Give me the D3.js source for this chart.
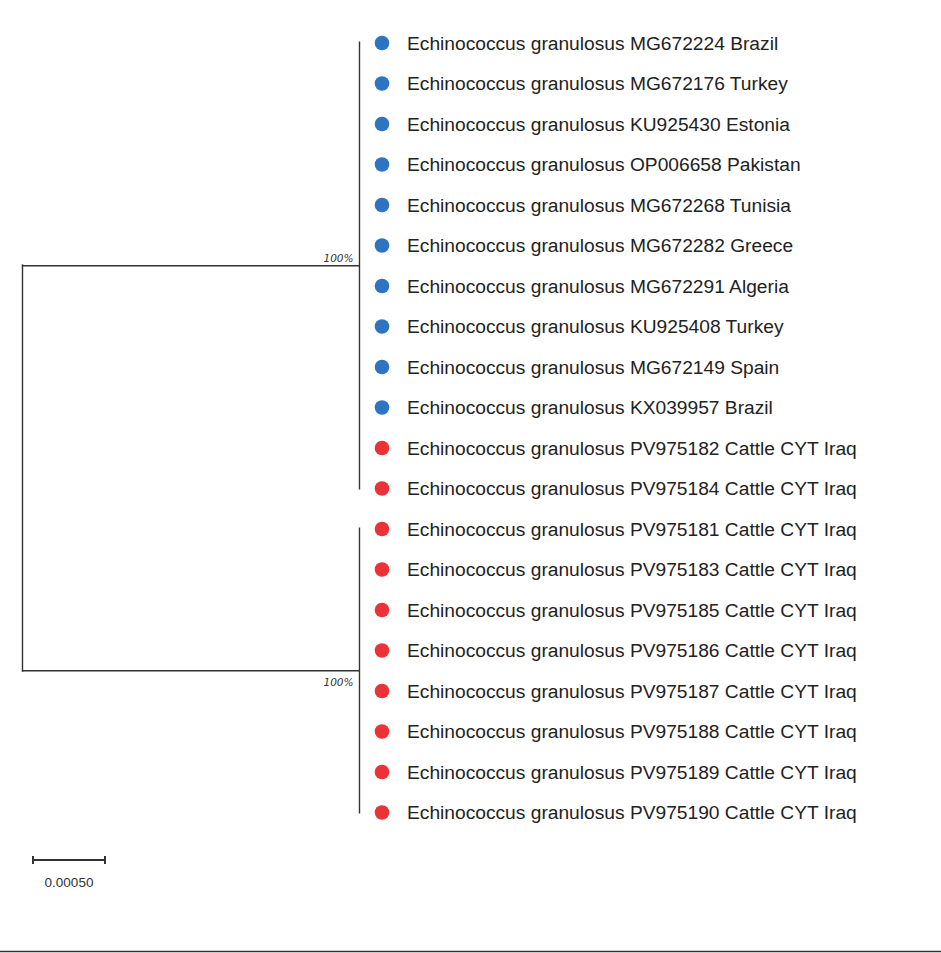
<!DOCTYPE html>
<html>
<head>
<meta charset="utf-8">
<script src="https://cdn.jsdelivr.net/npm/d3@7"></script>
<style>
    body { margin: 0; background: #fff; }
    svg { display: block; }
</style>
</head>
<body>
<div id="tree"></div>
<script>

// leaf labels, top to bottom
var taxa = [
    "Echinococcus granulosus MG672224 Brazil",
    "Echinococcus granulosus MG672176 Turkey",
    "Echinococcus granulosus KU925430 Estonia",
    "Echinococcus granulosus OP006658 Pakistan",
    "Echinococcus granulosus MG672268 Tunisia",
    "Echinococcus granulosus MG672282 Greece",
    "Echinococcus granulosus MG672291 Algeria",
    "Echinococcus granulosus KU925408 Turkey",
    "Echinococcus granulosus MG672149 Spain",
    "Echinococcus granulosus KX039957 Brazil",
    "Echinococcus granulosus PV975182 Cattle CYT Iraq",
    "Echinococcus granulosus PV975184 Cattle CYT Iraq",
    "Echinococcus granulosus PV975181 Cattle CYT Iraq",
    "Echinococcus granulosus PV975183 Cattle CYT Iraq",
    "Echinococcus granulosus PV975185 Cattle CYT Iraq",
    "Echinococcus granulosus PV975186 Cattle CYT Iraq",
    "Echinococcus granulosus PV975187 Cattle CYT Iraq",
    "Echinococcus granulosus PV975188 Cattle CYT Iraq",
    "Echinococcus granulosus PV975189 Cattle CYT Iraq",
    "Echinococcus granulosus PV975190 Cattle CYT Iraq"
];

// marker group per leaf: 0 = reference sequences, 1 = this study
var marker = [0,0,0,0,0,0,0,0,0,0,1,1,1,1,1,1,1,1,1,1];

// clade each leaf belongs to
var leafClade = [0,0,0,0,0,0,0,0,0,0,0,0,1,1,1,1,1,1,1,1];

// clades hanging off the root
var cladeBranch = [0.00234, 0.00234];
var cladeSupport = ["100%", "100%"];
var leafBranch = 0;

var scaleBarValue = 0.0005;

var markerColor = d3.scaleOrdinal().domain([0, 1]).range(["#2f74c3", "#ec3137"]);

// build nested tree for d3.hierarchy
var treeData = {
    name: "root",
    length: 0,
    children: cladeBranch.map(function (len, c) {
        return {
            name: "clade" + c,
            length: len,
            support: cladeSupport[c],
            children: taxa
                .map(function (t, i) { return {name: t, length: leafBranch, group: marker[i], idx: i}; })
                .filter(function (d) { return leafClade[d.idx] === c; })
        };
    })
};

var width = 941, height = 953;

var svg = d3.select("#tree")
    .append("svg")
    .attr("width", width)
    .attr("height", height);

var root = d3.hierarchy(treeData);
root.each(function (d) {
    d.dist = (d.parent ? d.parent.dist : 0) + d.data.length;
});

var xScale = d3.scaleLinear()
    .domain([0, d3.max(root.leaves(), function (d) { return d.dist; })])
    .range([22.5, 359.5]);

var yScale = d3.scalePoint()
    .domain(taxa)
    .range([43, 812.5]);

root.leaves().forEach(function (d) { d.y = yScale(d.data.name); });
root.eachAfter(function (d) {
    if (d.children) {
        d.y = (d.children[0].y + d.children[d.children.length - 1].y) / 2;
    }
    d.x = xScale(d.dist);
});

var lines = svg.append("g")
    .attr("stroke", "#333")
    .attr("stroke-width", 1.4)
    .attr("fill", "none");

// vertical connectors
lines.selectAll("line.vert")
    .data(root.descendants().filter(function (d) { return d.children; }))
    .enter()
    .append("line")
    .attr("class", "vert")
    .attr("x1", function (d) { return d.x; })
    .attr("x2", function (d) { return d.x; })
    .attr("y1", function (d) { return d.children[0].y - 1.5; })
    .attr("y2", function (d) { return d.children[d.children.length - 1].y + 1; });

// horizontal branches
lines.selectAll("line.horiz")
    .data(root.descendants().filter(function (d) { return d.parent && d.data.length > 0; }))
    .enter()
    .append("line")
    .attr("class", "horiz")
    .attr("x1", function (d) { return d.parent.x - 0.7; })
    .attr("x2", function (d) { return d.x; })
    .attr("y1", function (d) { return d.y; })
    .attr("y2", function (d) { return d.y; });

// bootstrap values
svg.selectAll("text.support")
    .data(root.children)
    .enter()
    .append("text")
    .attr("class", "support")
    .attr("x", function (d) { return d.x - 6; })
    .attr("y", function (d, i) { return i === 0 ? d.y - 4 : d.y + 15; })
    .attr("text-anchor", "end")
    .style("font-family", "DejaVu Sans, sans-serif")
    .style("font-style", "italic")
    .style("font-size", "10.5px")
    .style("fill", "#333")
    .text(function (d) { return d.data.support; });

// leaf markers and labels
var leaves = svg.selectAll("g.leaf")
    .data(root.leaves())
    .enter()
    .append("g")
    .attr("class", "leaf")
    .attr("transform", function (d) { return "translate(" + d.x + "," + d.y + ")"; });

leaves.append("circle")
    .attr("cx", 22.5)
    .attr("cy", 0)
    .attr("r", 7.3)
    .style("fill", function (d) { return markerColor(d.data.group); });

leaves.append("text")
    .attr("x", 47.5)
    .attr("dy", "0.36em")
    .style("font-family", "'Liberation Sans', Arial, sans-serif")
    .style("font-size", "19.2px")
    .style("fill", "#222")
    .text(function (d) { return d.data.name; });

// scale bar
var barLen = xScale(scaleBarValue) - xScale(0);
var bar = svg.append("g")
    .attr("transform", "translate(33,860)")
    .attr("stroke", "#333");

bar.append("line").attr("x1", 0).attr("x2", barLen).attr("stroke-width", 2);
bar.append("line").attr("x1", 0).attr("x2", 0).attr("y1", -4).attr("y2", 4).attr("stroke-width", 2);
bar.append("line").attr("x1", barLen).attr("x2", barLen).attr("y1", -4).attr("y2", 4).attr("stroke-width", 2);

bar.append("text")
    .attr("x", barLen / 2)
    .attr("y", 27)
    .attr("stroke", "none")
    .attr("text-anchor", "middle")
    .style("font-family", "'Liberation Sans', Arial, sans-serif")
    .style("font-size", "13.5px")
    .style("fill", "#333")
    .text(d3.format(".5f")(scaleBarValue));

// frame line at the bottom
svg.append("line")
    .attr("x1", 0).attr("x2", width)
    .attr("y1", 951.5).attr("y2", 951.5)
    .attr("stroke", "#333")
    .attr("stroke-width", 1.5);

</script>
</body>
</html>
